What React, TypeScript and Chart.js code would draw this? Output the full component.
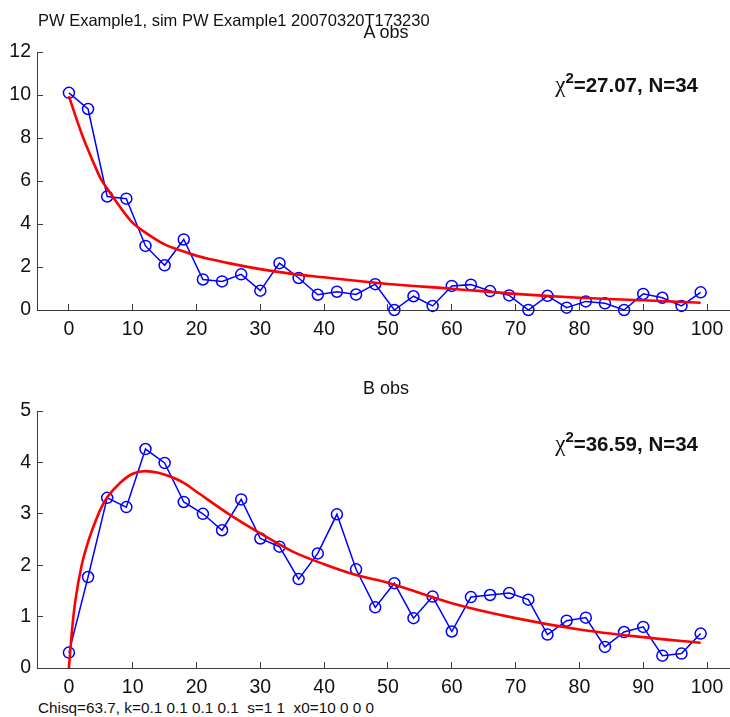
import React, { useEffect, useRef } from "react";
import { Chart, registerables } from "chart.js";

Chart.register(...registerables);

const FONT = '"Liberation Sans", Arial, Helvetica, sans-serif';
const AXIS_COLOR = "#3c3c3c";
const TEXT_COLOR = "#111111";

// Sample positions of the observations (every 3 units)
const obsX = [0, 3, 6, 9, 12, 15, 18, 21, 24, 27, 30, 33, 36, 39, 42, 45, 48, 51, 54, 57, 60, 63, 66, 69, 72, 75, 78, 81, 84, 87, 90, 93, 96, 99];

// Observed values, A and B
const obsA = [10.1, 9.35, 5.28, 5.18, 2.98, 2.08, 3.28, 1.42, 1.33, 1.66, 0.9, 2.18, 1.49, 0.71, 0.85, 0.72, 1.2, 0.0, 0.64, 0.19, 1.12, 1.18, 0.88, 0.68, 0.0, 0.66, 0.11, 0.4, 0.31, 0.0, 0.75, 0.57, 0.19, 0.82];
const obsB = [0.3, 1.77, 3.31, 3.13, 4.26, 3.99, 3.23, 3.0, 2.68, 3.28, 2.52, 2.36, 1.73, 2.23, 2.99, 1.92, 1.18, 1.65, 0.97, 1.39, 0.71, 1.38, 1.42, 1.46, 1.33, 0.65, 0.92, 0.98, 0.41, 0.7, 0.8, 0.24, 0.28, 0.67];

// Fitted model curves
const fitAX = [0, 1, 2, 3, 4, 5, 6, 8, 10, 12, 15, 18, 20, 25, 30, 35, 40, 45, 50, 60, 70, 80, 90, 99];
const fitA = [9.95, 9.05, 8.2, 7.45, 6.75, 6.1, 5.65, 4.8, 4.05, 3.6, 3.05, 2.72, 2.52, 2.18, 1.9, 1.68, 1.52, 1.36, 1.21, 0.99, 0.75, 0.57, 0.45, 0.34];
const fitBX = [0, 0.5, 1, 2, 3, 4, 5, 6, 8, 10, 12, 14, 16, 18, 20, 25, 30, 35, 40, 45, 50, 55, 60, 70, 80, 90, 99];
const fitB = [0, 0.75, 1.3, 2.0, 2.45, 2.8, 3.1, 3.32, 3.6, 3.78, 3.83, 3.8, 3.72, 3.6, 3.43, 3.0, 2.62, 2.27, 2.02, 1.81, 1.66, 1.46, 1.26, 0.97, 0.75, 0.6, 0.49];

// Tick labels
const xTicks = [0, 10, 20, 30, 40, 50, 60, 70, 80, 90, 100];
const yTicksA = [0, 2, 4, 6, 8, 10, 12];
const yTicksB = [0, 1, 2, 3, 4, 5];

// Header / footer / panel texts
const headerText = "PW Example1, sim PW Example1 20070320T173230";
const footerText = "Chisq=63.7, k=0.1 0.1 0.1 0.1  s=1 1  x0=10 0 0 0";
const titleA = "A obs";
const titleB = "B obs";
const statA = "=27.07, N=34";
const statB = "=36.59, N=34";

const X_MIN = -5;
const X_MAX = 103.6;

type PanelProps = {
  top: number;
  height: number;
  padTop: number;
  xs: number[];
  ys: number[];
  fitXs: number[];
  fitYs: number[];
  yTicks: number[];
};

function Panel({ top, height, padTop, xs, ys, fitXs, fitYs, yTicks }: PanelProps) {
  const ref = useRef<HTMLCanvasElement | null>(null);

  useEffect(() => {
    if (!ref.current) return;
    const tickFont = { family: FONT, size: 19.5 };
    const chart = new Chart(ref.current, {
      type: "line",
      data: {
        datasets: [
          {
            data: fitXs.map((x, i) => ({ x, y: fitYs[i] })),
            borderColor: "#ff0000",
            borderWidth: 2.6,
            pointRadius: 0,
            cubicInterpolationMode: "monotone",
            fill: false,
            clip: false as any,
            order: 0,
          },
          {
            data: xs.map((x, i) => ({ x, y: ys[i] })),
            borderColor: "#0000ff",
            borderWidth: 1.5,
            tension: 0,
            pointRadius: 5.5,
            pointStyle: "circle",
            pointBorderWidth: 1.5,
            pointBorderColor: "#0000ff",
            pointBackgroundColor: "rgba(0,0,0,0)",
            fill: false,
            clip: false as any,
            order: 1,
          },
        ],
      },
      options: {
        animation: false,
        responsive: false,
        maintainAspectRatio: false,
        events: [],
        layout: { autoPadding: false, padding: { top: padTop, left: 0, right: 0, bottom: 0 } },
        plugins: {
          legend: { display: false },
          tooltip: { enabled: false },
          title: { display: false },
        },
        scales: {
          x: {
            type: "linear",
            min: X_MIN,
            max: X_MAX,
            afterBuildTicks: (s: any) => {
              s.ticks = xTicks.map((v) => ({ value: v }));
            },
            afterFit: (s: any) => {
              s.height = 30;
              s.paddingLeft = 0;
              s.paddingRight = 0;
            },
            grid: { drawOnChartArea: false, tickLength: -6, color: AXIS_COLOR, lineWidth: 1 },
            border: { display: true, color: AXIS_COLOR, width: 1 },
            ticks: { padding: 14, font: tickFont, color: TEXT_COLOR, maxRotation: 0, autoSkip: false },
          },
          y: {
            type: "linear",
            min: yTicks[0],
            max: yTicks[yTicks.length - 1],
            afterBuildTicks: (s: any) => {
              s.ticks = yTicks.map((v) => ({ value: v }));
            },
            afterFit: (s: any) => {
              s.width = 37;
              s.paddingTop = 0;
              s.paddingBottom = 0;
            },
            grid: { drawOnChartArea: false, tickLength: -6, color: AXIS_COLOR, lineWidth: 1 },
            border: { display: true, color: AXIS_COLOR, width: 1 },
            ticks: { padding: 12, font: tickFont, color: TEXT_COLOR, autoSkip: false },
          },
        },
      },
    } as any);
    return () => chart.destroy();
  }, []);

  return (
    <canvas
      ref={ref}
      width={730}
      height={height}
      style={{ position: "absolute", left: 0, top, width: 730, height }}
    />
  );
}

function Stat({ top, text }: { top: number; text: string }) {
  return (
    <div
      style={{
        position: "absolute",
        right: 32,
        top,
        fontFamily: FONT,
        fontWeight: "bold",
        fontSize: 20.5,
        lineHeight: "20.5px",
        whiteSpace: "pre",
        color: TEXT_COLOR,
      }}
    >
      <span style={{ fontFamily: '"Liberation Serif", "DejaVu Serif", serif', fontWeight: "normal", fontSize: 23 }}>χ</span>
      <span style={{ fontSize: 15, position: "relative", top: -9 }}>2</span>
      {text}
    </div>
  );
}

function Label({ top, left, size, text, center }: { top: number; left: number; size: number; text: string; center?: boolean }) {
  return (
    <div
      style={{
        position: "absolute",
        left,
        top,
        fontFamily: FONT,
        fontSize: size,
        lineHeight: `${size}px`,
        whiteSpace: "pre",
        color: TEXT_COLOR,
        transform: center ? "translateX(-50%)" : undefined,
      }}
    >
      {text}
    </div>
  );
}

export default function App() {
  return (
    <div
      style={{
        position: "absolute",
        left: 0,
        top: 0,
        width: 730,
        height: 717,
        overflow: "hidden",
        background: "#ffffff",
      }}
    >
      <Panel top={0} height={340} padTop={52} xs={obsX} ys={obsA} fitXs={fitAX} fitYs={fitA} yTicks={yTicksA} />
      <Panel top={360} height={338} padTop={51} xs={obsX} ys={obsB} fitXs={fitBX} fitYs={fitB} yTicks={yTicksB} />
      <Label top={12} left={38} size={16.5} text={headerText} />
      <Label top={22.5} left={386} size={18} text={titleA} center />
      <Label top={379.1} left={386} size={18} text={titleB} center />
      <Stat top={74.6} text={statA} />
      <Stat top={433.6} text={statB} />
      <Label top={700} left={38} size={15.3} text={footerText} />
    </div>
  );
}
